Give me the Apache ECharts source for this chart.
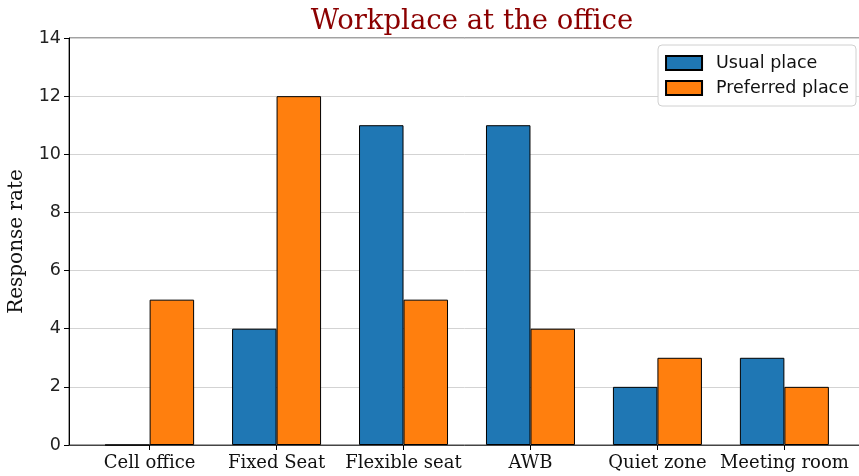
<!DOCTYPE html>
<html>
<head>
<meta charset="utf-8">
<script src="https://cdn.jsdelivr.net/npm/echarts@6/dist/echarts.min.js"></script>
<style>
  html, body { margin: 0; padding: 0; background: #fff; }
  #chart { width: 859px; height: 476px; }
</style>
</head>
<body>
<div id="chart"></div>
<script>
const categories = ['Cell office', 'Fixed Seat', 'Flexible seat', 'AWB', 'Quiet zone', 'Meeting room']
const usualPlace = [0, 4, 11, 11, 2, 3]
const preferredPlace = [5, 12, 5, 4, 3, 2]
const catIndex = categories.map((c, i) => i)

const serif = 'DejaVu Serif'
const sans = 'DejaVu Sans'

let myChart = echarts.init(document.getElementById('chart'))
let option = {
  animation: false,
  title: {
    text: 'Workplace at the office',
    left: 467,
    textAlign: 'center',
    top: 3,
    textStyle: { fontFamily: serif, fontWeight: 'normal', fontSize: 27.5, color: '#8b0000' }
  },
  legend: {
    orient: 'vertical',
    right: 3,
    top: 45,
    itemWidth: 36,
    itemHeight: 14,
    itemGap: 7,
    padding: [9, 7, 9, 7],
    borderColor: '#d0d0d0',
    borderWidth: 1,
    borderRadius: 4,
    backgroundColor: '#fff',
    icon: 'rect',
    textStyle: { fontFamily: sans, fontSize: 17.5, color: '#111', padding: [0, 0, 0, 9] }
  },
  grid: {
    left: 69,
    top: 38,
    width: 796,
    height: 407,
    outerBoundsMode: 'none',
    show: true,
    borderColor: '#444',
    borderWidth: 1
  },
  xAxis: {
    type: 'value',
    min: -0.635,
    max: 5.635,
    splitLine: { show: false },
    axisLine: { show: true, lineStyle: { color: '#444', width: 1 } },
    axisTick: { show: true, customValues: catIndex, length: 5, lineStyle: { color: '#000' } },
    axisLabel: {
      customValues: catIndex,
      formatter: v => categories[Math.round(v)],
      fontFamily: serif,
      fontSize: 18,
      color: '#111',
      margin: 9
    }
  },
  yAxis: {
    type: 'value',
    min: 0,
    max: 14,
    interval: 2,
    name: 'Response rate',
    nameLocation: 'middle',
    nameGap: 42,
    nameTextStyle: { fontFamily: serif, fontSize: 20, color: '#111' },
    axisLine: { show: true, onZero: false, lineStyle: { color: '#000' } },
    axisTick: { show: true, length: 5, lineStyle: { color: '#000' } },
    axisLabel: { fontFamily: sans, fontSize: 17.5, color: '#222', margin: 8 },
    splitLine: { show: true, lineStyle: { color: '#d3d3d3', width: 1 } }
  },
  series: [
    {
      name: 'Usual place',
      type: 'bar',
      data: usualPlace.map((v, i) => [i, v]),
      barWidth: 44.5,
      barGap: '0%',
      itemStyle: { color: '#1f77b4', borderColor: '#000', borderWidth: 1 }
    },
    {
      name: 'Preferred place',
      type: 'bar',
      data: preferredPlace.map((v, i) => [i, v]),
      barWidth: 44.5,
      barGap: '0%',
      itemStyle: { color: '#ff7f0e', borderColor: '#000', borderWidth: 1 }
    }
  ]
}
myChart.setOption(option)
window.addEventListener('resize', function () {
  myChart.resize()
})
</script>
</body>
</html>
